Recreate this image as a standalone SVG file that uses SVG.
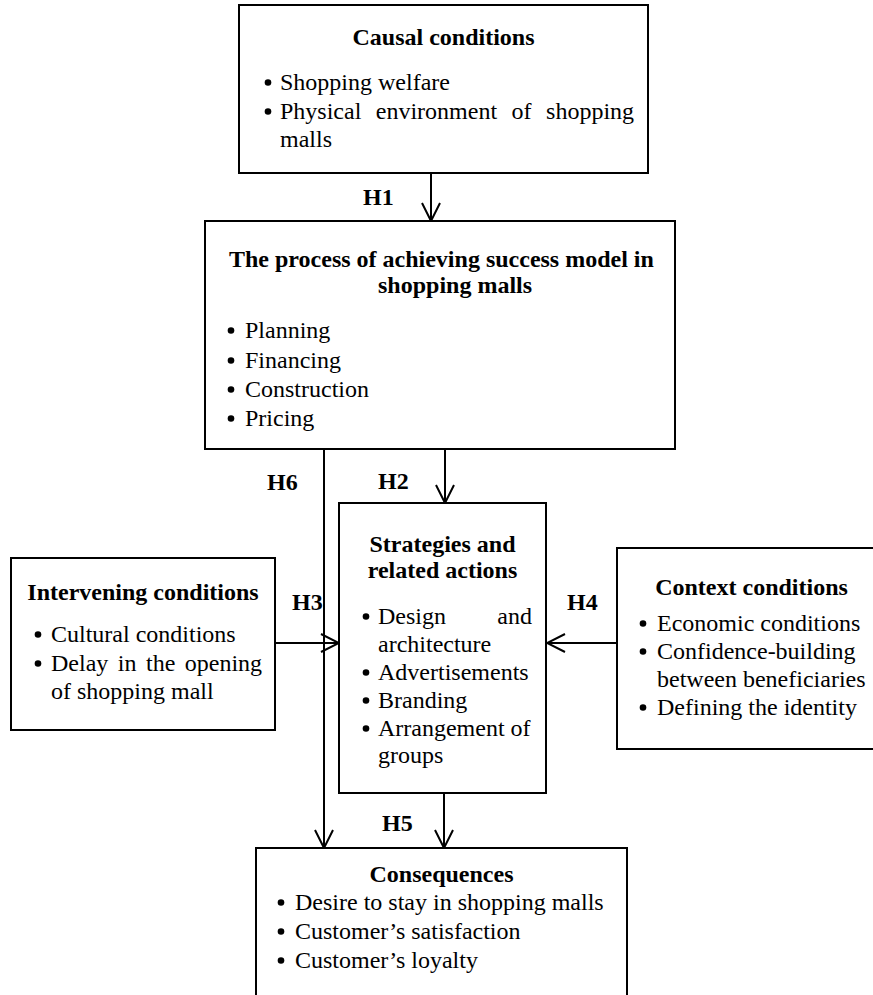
<svg xmlns="http://www.w3.org/2000/svg" width="873" height="995" viewBox="0 0 873 995">
<style>
.box{fill:#fff;stroke:#000;stroke-width:2}
text{font-family:"Liberation Serif","Times New Roman",serif;font-size:24px;fill:#000}
.t{font-weight:bold;text-anchor:middle}
.h{font-weight:bold}
.c{stroke:#000;stroke-width:2;fill:none}
.b{fill:#000}
</style>
<defs>
<marker id="arr" markerUnits="userSpaceOnUse" viewBox="0 0 20 20" refX="19" refY="10" markerWidth="20" markerHeight="20" orient="auto">
<path d="M1,1 L19,10 L1,19" fill="none" stroke="#000" stroke-width="2"/>
</marker>
</defs>
<rect width="873" height="995" fill="#fff"/>
<g id="connectors">
<line class="c" x1="431" y1="173" x2="431" y2="221" marker-end="url(#arr)"/>
<line class="c" x1="445" y1="449" x2="445" y2="503" marker-end="url(#arr)"/>
<line class="c" x1="324" y1="449" x2="324" y2="848" marker-end="url(#arr)"/>
<line class="c" x1="275" y1="643" x2="339" y2="643" marker-end="url(#arr)"/>
<line class="c" x1="617" y1="643" x2="547" y2="643" marker-end="url(#arr)"/>
<line class="c" x1="444" y1="793" x2="444" y2="848" marker-end="url(#arr)"/>
<text class="h" x="363" y="205">H1</text>
<text class="h" x="378" y="489">H2</text>
<text class="h" x="267" y="490">H6</text>
<text class="h" x="292" y="610">H3</text>
<text class="h" x="567" y="610">H4</text>
<text class="h" x="382" y="831">H5</text>
</g>
<g id="causal">
<rect class="box" x="239" y="5" width="409" height="168"/>
<text class="t" x="443.5" y="45">Causal conditions</text>
<circle class="b" cx="268" cy="82.5" r="3.3"/><text x="280" y="90">Shopping welfare</text>
<circle class="b" cx="268" cy="111.5" r="3.3"/>
<text y="119"><tspan x="280">Physical</tspan><tspan x="375.8">environment</tspan><tspan x="511.6">of</tspan><tspan x="546.1">shopping</tspan></text>
<text x="280" y="147">malls</text>
</g>
<g id="process">
<rect class="box" x="205" y="221" width="470" height="228"/>
<text class="h" x="229" y="267">The process of achieving success model in</text>
<text class="h" x="378" y="293">shopping malls</text>
<circle class="b" cx="231" cy="330.5" r="3.3"/><text x="245" y="338">Planning</text>
<circle class="b" cx="231" cy="360.5" r="3.3"/><text x="245" y="368">Financing</text>
<circle class="b" cx="231" cy="389.5" r="3.3"/><text x="245" y="397">Construction</text>
<circle class="b" cx="231" cy="418.5" r="3.3"/><text x="245" y="426">Pricing</text>
</g>
<g id="strategies">
<rect class="box" x="339" y="503" width="207" height="290"/>
<text class="t" x="442.5" y="552">Strategies and</text>
<text class="t" x="442.5" y="578">related actions</text>
<circle class="b" cx="366" cy="616.5" r="3.3"/><text x="378" y="624">Design</text><text x="532" y="624" text-anchor="end">and</text>
<text x="378" y="652">architecture</text>
<circle class="b" cx="366" cy="672.5" r="3.3"/><text x="378" y="680">Advertisements</text>
<circle class="b" cx="366" cy="700.5" r="3.3"/><text x="378" y="708">Branding</text>
<circle class="b" cx="366" cy="728.5" r="3.3"/><text x="378" y="736">Arrangement of</text>
<text x="378" y="763">groups</text>
</g>
<g id="intervening">
<rect class="box" x="11" y="558" width="264" height="172"/>
<text class="t" x="143" y="600">Intervening conditions</text>
<circle class="b" cx="38" cy="634.5" r="3.3"/><text x="51" y="642">Cultural conditions</text>
<circle class="b" cx="38" cy="663.5" r="3.3"/>
<text y="671"><tspan x="51">Delay</tspan><tspan x="117.8">in</tspan><tspan x="146">the</tspan><tspan x="184.8">opening</tspan></text>
<text x="51" y="699">of shopping mall</text>
</g>
<g id="context">
<rect class="box" x="617" y="548" width="260" height="201"/>
<text class="t" x="751.5" y="595">Context conditions</text>
<circle class="b" cx="643" cy="623.5" r="3.3"/><text x="657" y="631">Economic conditions</text>
<circle class="b" cx="643" cy="651.5" r="3.3"/><text x="657" y="659">Confidence-building</text>
<text x="657" y="687">between beneficiaries</text>
<circle class="b" cx="643" cy="707.5" r="3.3"/><text x="657" y="715">Defining the identity</text>
</g>
<g id="consequences">
<rect class="box" x="256" y="848" width="371" height="160"/>
<text class="t" x="441.5" y="882">Consequences</text>
<circle class="b" cx="281" cy="902.5" r="3.3"/><text x="295" y="910">Desire to stay in shopping malls</text>
<circle class="b" cx="281" cy="931.5" r="3.3"/><text x="295" y="939">Customer’s satisfaction</text>
<circle class="b" cx="281" cy="960.5" r="3.3"/><text x="295" y="968">Customer’s loyalty</text>
</g>
</svg>
